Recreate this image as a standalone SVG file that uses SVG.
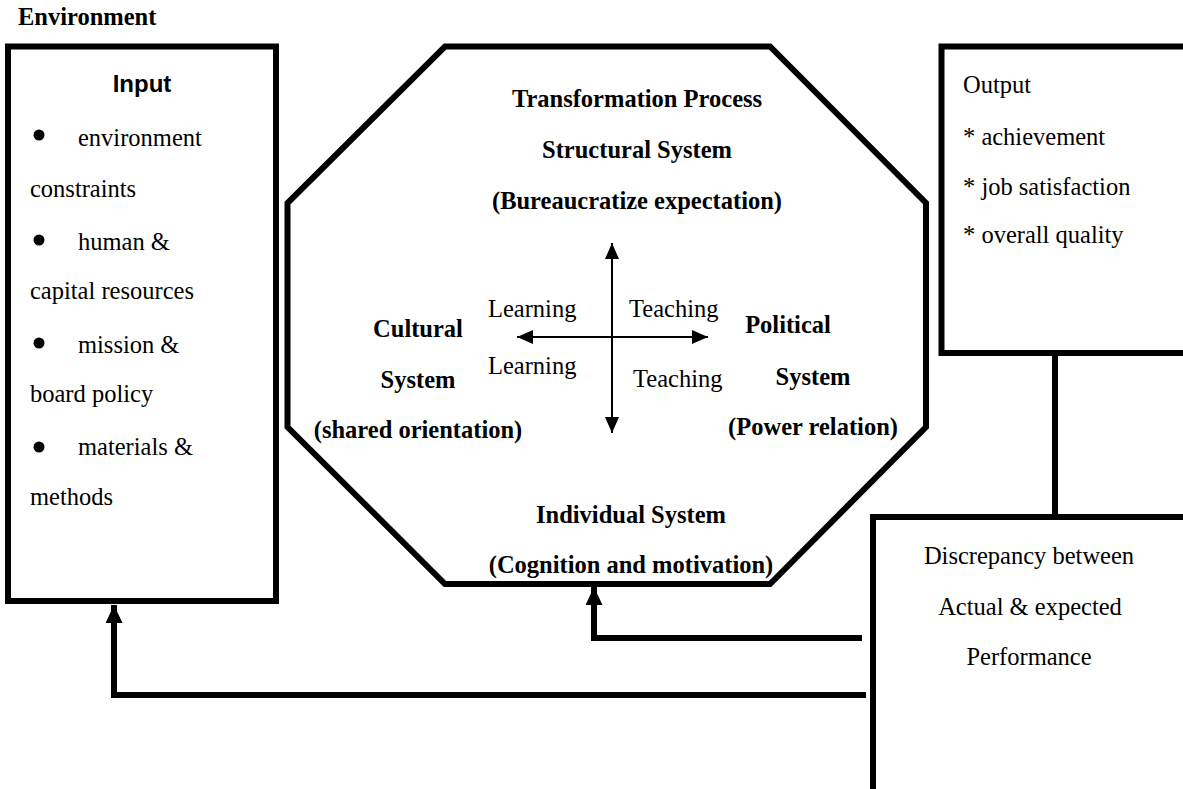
<svg xmlns="http://www.w3.org/2000/svg" width="1183" height="789" viewBox="0 0 1183 789">
<style>
.t{font-family:"Liberation Serif","Times New Roman",serif;font-size:24.5px;fill:#000}
.b{font-family:"Liberation Serif","Times New Roman",serif;font-size:24.5px;font-weight:bold;fill:#000}
.s{font-family:"Liberation Sans",Arial,sans-serif;font-size:24px;font-weight:bold;fill:#000}
.m{text-anchor:middle}
.box{fill:#fff;stroke:#000;stroke-width:6}
.thick{fill:none;stroke:#000;stroke-width:6}
.thin{fill:none;stroke:#000;stroke-width:2}
</style>
<defs>
<marker id="bigHead" markerUnits="userSpaceOnUse" viewBox="0 0 18 17" refX="18" refY="8.5" markerWidth="18" markerHeight="17" orient="auto">
<path d="M0,0 L18,8.5 L0,17 Z" fill="#000"/>
</marker>
<marker id="smallHead" markerUnits="userSpaceOnUse" viewBox="0 0 16 14" refX="16" refY="7" markerWidth="16" markerHeight="14" orient="auto-start-reverse">
<path d="M0,0 L16,7 L0,14 Z" fill="#000"/>
</marker>
</defs>
<rect width="1183" height="789" fill="#fff"/>
<text class="b" x="18" y="25">Environment</text>
<g id="input">
<rect class="box" x="8" y="46.5" width="268" height="554.5"/>
<text class="s m" x="142" y="92">Input</text>
<circle cx="39" cy="135" r="5.5"/>
<text class="t" x="78" y="146">environment</text>
<text class="t" x="30" y="197">constraints</text>
<circle cx="39" cy="240" r="5.5"/>
<text class="t" x="78" y="250">human &amp;</text>
<text class="t" x="30" y="299">capital resources</text>
<circle cx="39" cy="343" r="5.5"/>
<text class="t" x="78" y="353">mission &amp;</text>
<text class="t" x="30" y="402">board policy</text>
<circle cx="39" cy="447" r="5.5"/>
<text class="t" x="78" y="455">materials &amp;</text>
<text class="t" x="30" y="505">methods</text>
</g>
<g id="transformation">
<polygon class="box" stroke-width="5" points="445,46.5 770,46.5 926,203 926,427 770,584 445,584 287.5,427 287.5,203"/>
<text class="b m" x="637" y="107">Transformation Process</text>
<text class="b m" x="637" y="158">Structural System</text>
<text class="b m" x="637" y="209">(Bureaucratize expectation)</text>
<text class="b m" x="418" y="337">Cultural</text>
<text class="b m" x="418" y="388">System</text>
<text class="b m" x="418" y="438">(shared orientation)</text>
<text class="b m" x="788" y="333">Political</text>
<text class="b m" x="813" y="385">System</text>
<text class="b m" x="813" y="435">(Power relation)</text>
<text class="b m" x="631" y="523">Individual System</text>
<text class="b m" x="631" y="573">(Cognition and motivation)</text>
<text class="t" x="488" y="317">Learning</text>
<text class="t" x="629" y="317">Teaching</text>
<text class="t" x="488" y="374">Learning</text>
<text class="t" x="633" y="387">Teaching</text>
<line class="thin" x1="612" y1="243" x2="612" y2="433" marker-start="url(#smallHead)" marker-end="url(#smallHead)"/>
<line class="thin" x1="517" y1="337" x2="708" y2="337" marker-start="url(#smallHead)" marker-end="url(#smallHead)"/>
</g>
<g id="output">
<rect class="box" x="941.5" y="46.5" width="260" height="306.5"/>
<text class="t" x="963" y="93">Output</text>
<text class="t" x="963" y="145">* achievement</text>
<text class="t" x="963" y="195">* job satisfaction</text>
<text class="t" x="963" y="243">* overall quality</text>
</g>
<g id="discrepancy">
<rect class="box" x="873" y="517" width="330" height="290"/>
<text class="t m" x="1029" y="564">Discrepancy between</text>
<text class="t m" x="1030" y="615">Actual &amp; expected</text>
<text class="t m" x="1029" y="665">Performance</text>
</g>
<g id="connectors">
<line class="thick" x1="1055" y1="353" x2="1055" y2="517"/>
<polyline class="thick" points="862,638 594,638 594,587" marker-end="url(#bigHead)"/>
<polyline class="thick" points="866,695 114,695 114,605" marker-end="url(#bigHead)"/>
</g>
</svg>
